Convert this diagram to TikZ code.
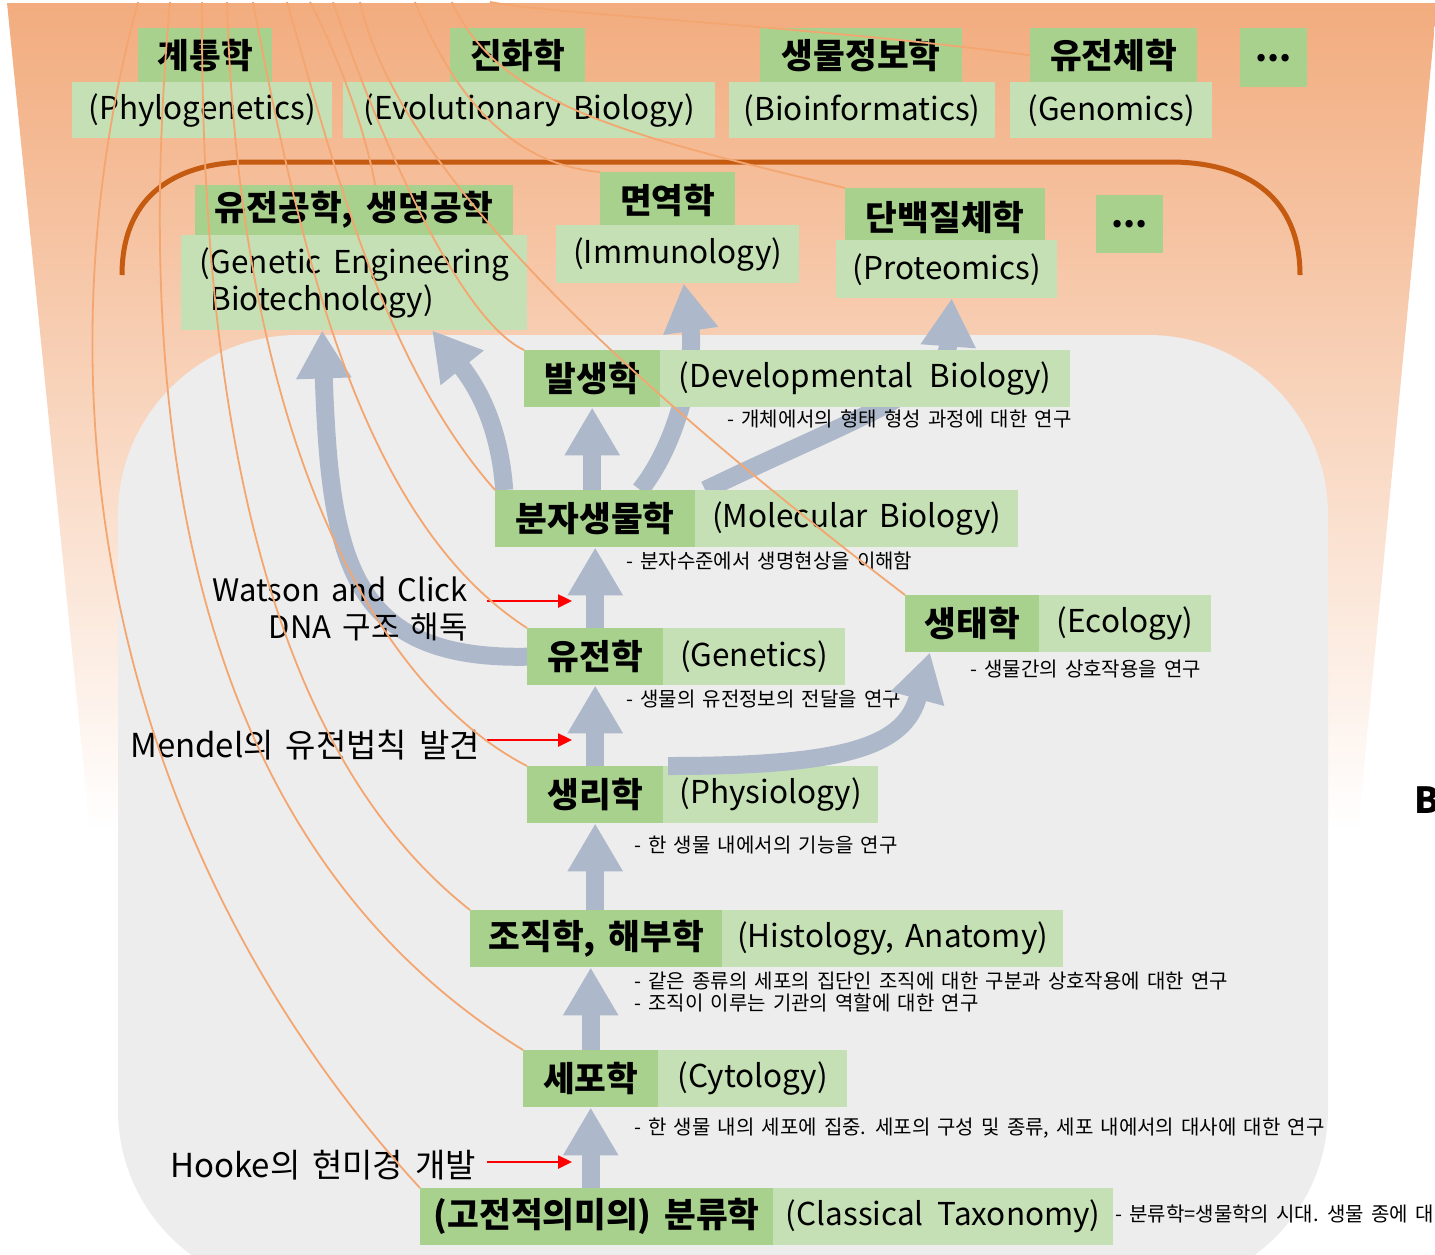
\documentclass[tikz,border=0pt]{standalone}
\usepackage{fontspec}
\setmainfont{Noto Sans CJK KR}[WordSpace=1.6]
\usetikzlibrary{arrows.meta}
\definecolor{dkgreen}{RGB}{169,209,142}
\definecolor{ltgreen}{RGB}{197,224,180}
\definecolor{panel}{RGB}{237,237,237}
\definecolor{flow}{RGB}{173,185,202}
\definecolor{rim}{RGB}{197,90,17}
\definecolor{root}{RGB}{244,166,112}
\definecolor{sky}{RGB}{242,172,126}
\pgfdeclarelayer{under}
\pgfsetlayers{under,main}

\begin{document}
\begin{tikzpicture}[x=1pt, y=-1pt,
    dk/.style={fill=dkgreen, anchor=north west, inner sep=0pt, minimum height=57pt, font=\bfseries\fontsize{34.5}{38}\selectfont},
    lt/.style={fill=ltgreen, anchor=north west, inner sep=0pt, minimum height=57pt, font=\fontsize{31.5}{37}\selectfont},
    note/.style={anchor=west, inner sep=0pt, align=left, font=\fontsize{20}{22}\selectfont},
    say/.style={anchor=east, inner sep=0pt, align=right, font=\fontsize{33}{37}\selectfont},
    flowup/.style={draw=flow, line width=18pt, -{Triangle[width=52pt,length=48pt]}},
    cue/.style={draw=red, line width=2.5pt, -{Triangle[width=13pt,length=14pt]}},
    rootline/.style={draw=root, line width=1.8pt}]
              \useasboundingbox (0,0) rectangle (1435,1254);
              \begin{pgfonlayer}{under}
              \shade[top color=sky, bottom color=white] (7,3) -- (1437,3) -- (1358,830) -- (90,830) -- cycle;
              \fill[panel, rounded corners=180pt] (118,335) rectangle (1328,1290);
              \draw[rim, line width=5pt] (122,275) .. controls (122,200) and (170,162) .. (250,162) -- (1170,162) .. controls (1250,162) and (1300,200) .. (1300,275);
              \end{pgfonlayer}

              \node[dk, minimum width=134pt, minimum height=54pt] (phyl) at (138,28) {계통학};
              \node[lt, minimum width=260pt, minimum height=56pt] (phylE) at (72,82) {(Phylogenetics)};
              \node[dk, minimum width=135pt, minimum height=54pt] (evo) at (450,28) {진화학};
              \node[lt, minimum width=372pt, minimum height=56pt] (evoE) at (343,82) {(Evolutionary Biology)};
              \node[dk, minimum width=202pt, minimum height=54pt] (bioinf) at (760,28) {생물정보학};
              \node[lt, minimum width=266pt, minimum height=56pt] (bioinfE) at (729,82) {(Bioinformatics)};
              \node[dk, minimum width=167pt, minimum height=54pt] (genom) at (1030,28) {유전체학};
              \node[lt, minimum width=202pt, minimum height=56pt] (genomE) at (1010,82) {(Genomics)};
              \node[dk, minimum width=67pt, minimum height=59pt] (more1) at (1240,28) {...};

              \node[dk, minimum width=318pt, minimum height=50pt] (eng) at (195,185) {유전공학, 생명공학};
              \node[lt, minimum width=346pt, minimum height=95pt, align=left] (engE) at (181,235) {(Genetic Engineering\\\ Biotechnology)};
              \node[dk, minimum width=135pt, minimum height=56pt] (imm) at (600,172) {면역학};
              \node[lt, minimum width=243pt, minimum height=58pt] (immE) at (556,225) {(Immunology)};
              \node[dk, minimum width=200pt, minimum height=58pt] (prot) at (845,188) {단백질체학};
              \node[lt, minimum width=221pt, minimum height=58pt] (protE) at (836,240) {(Proteomics)};
              \node[dk, minimum width=67pt, minimum height=58pt] (more2) at (1096,195) {...};

              \node[dk, minimum width=136pt] (dev) at (524,350) {발생학};
              \node[lt, minimum width=410pt] (devE) at (660,350) {(Developmental\hspace{16pt}Biology)};
              \node[note] (devN) at (727,419) {- 개체에서의 형태 형성 과정에 대한 연구};
              \node[dk, minimum width=200pt] (mol) at (495,490) {분자생물학};
              \node[lt, minimum width=323pt] (molE) at (695,490) {(Molecular Biology)};
              \node[note] (molN) at (626,561) {- 분자수준에서 생명현상을 이해함};
              \node[dk, minimum width=136pt] (gen) at (527,628) {유전학};
              \node[lt, minimum width=182pt] (genE) at (663,628) {(Genetics)};
              \node[note] (genN) at (626,699) {- 생물의 유전정보의 전달을 연구};
              \node[dk, minimum width=134pt] (eco) at (905,595) {생태학};
              \node[lt, minimum width=172pt] (ecoE) at (1039,595) {(Ecology)};
              \node[note] (ecoN) at (970,669) {- 생물간의 상호작용을 연구};
              \node[dk, minimum width=136pt] (phy) at (527,766) {생리학};
              \node[lt, minimum width=215pt] (phyE) at (663,766) {(Physiology)};
              \node[note] (phyN) at (634,845) {- 한 생물 내에서의 기능을 연구};
              \node[dk, minimum width=252pt] (his) at (470,910) {조직학, 해부학};
              \node[lt, minimum width=341pt] (hisE) at (722,910) {(Histology, Anatomy)};
              \node[note] (hisN) at (634,992) {- 같은 종류의 세포의 집단인 조직에 대한 구분과 상호작용에 대한 연구\\- 조직이 이루는 기관의 역할에 대한 연구};
              \node[dk, minimum width=135pt] (cyt) at (523,1050) {세포학};
              \node[lt, minimum width=189pt] (cytE) at (658,1050) {(Cytology)};
              \node[note] (cytN) at (634,1128) {- 한 생물 내의 세포에 집중. 세포의 구성 및 종류, 세포 내에서의 대사에 대한 연구};
              \node[dk, minimum width=353pt] (tax) at (420,1188) {(고전적의미의) 분류학};
              \node[lt, minimum width=340pt] (taxE) at (773,1188) {(Classical\hspace{14pt}Taxonomy)};
              \node[note] (taxN) at (1115,1214) {- 분류학=생물학의 시대. 생물 종에 대};

              \node[anchor=west, inner sep=0pt, font=\bfseries\fontsize{36}{40}\selectfont] (mark) at (1414,800) {B};

              \begin{pgfonlayer}{under}
              \draw[flowup] ([xshift=110pt]mol.north) .. controls (850,420) and (945,390) .. ([xshift=5pt]protE.south);
              \draw[flowup] ([xshift=45pt]mol.north) .. controls (680,440) and (695,360) .. ([xshift=6pt]immE.south);
              \draw[flowup] (gen.west) .. controls (350,660) and (330,560) .. ([xshift=-32pt]engE.south);
              \draw[flowup] ([xshift=-91pt]mol.north) .. controls (500,430) and (480,390) .. ([xshift=78pt]engE.south);
              \end{pgfonlayer}
              \draw[flowup] (tax.north -| cyt.south) -- (cyt.south);
              \draw[flowup] (cyt.north) -- (cyt.north |- his.south);
              \draw[flowup] (his.north -| phy.south) -- (phy.south);
              \draw[flowup] (phy.north) -- (phy.north |- gen.south);
              \draw[flowup] (gen.north) -- (gen.north |- mol.south);
              \draw[flowup] (mol.north -| dev.south) -- (dev.south);
              \draw[flowup] ([xshift=5pt]phyE.north west) .. controls (850,766) and (905,745) .. ([xshift=25pt]eco.south west);

              \node[say, font=\fontsize{31}{37}\selectfont] (watson) at (468,609) {Watson and Click\\DNA 구조 해독};
              \node[say] (mendel) at (480,745) {Mendel의 유전법칙 발견};
              \node[say] (hooke) at (476,1165) {Hooke의 현미경 개발};
              \coordinate (w0) at (487,601);
              \coordinate (w1) at (572,601);
              \coordinate (m0) at (487,740);
              \coordinate (m1) at (572,740);
              \coordinate (h0) at (487,1162);
              \coordinate (h1) at (572,1162);
              \draw[cue] (w0) -- (w1);
              \draw[cue] (m0) -- (m1);
              \draw[cue] (h0) -- (h1);

              \coordinate (top1) at (138,2);
              \coordinate (top2) at (170,2);
              \coordinate (top3) at (202,2);
              \coordinate (top4) at (227,2);
              \coordinate (top5) at (253,2);
              \coordinate (top6) at (287,2);
              \coordinate (top7) at (310,2);
              \coordinate (top8) at (333,2);
              \coordinate (top9) at (360,2);
              \coordinate (top10) at (415,2);
              \coordinate (top11) at (452,2);
              \coordinate (top12) at (490,2);
              \draw[rootline] (top1) .. controls (30,400) and (110,850) .. (tax.north west);
              \draw[rootline] (top2) .. controls (130,450) and (200,850) .. (cyt.north west);
              \draw[rootline] (top3) .. controls (200,450) and (280,760) .. (his.north west);
              \draw[rootline] (top4) .. controls (240,450) and (380,690) .. (phy.north west);
              \draw[rootline] (top5) .. controls (300,250) and (360,520) .. (gen.north west);
              \draw[rootline] (top6) .. controls (330,150) and (380,360) .. (mol.north west);
              \draw[rootline] (top7) .. controls (340,60) and (365,130) .. ([xshift=21pt]eng.north);
              \draw[rootline] (top8) .. controls (380,140) and (460,320) .. (dev.north west);
              \draw[rootline] (top9) .. controls (400,180) and (650,400) .. (eco.north west);
              \draw[rootline] (top10) .. controls (460,110) and (520,165) .. (imm.north west);
              \draw[rootline] (top11) .. controls (500,110) and (650,140) .. (prot.north west);
              \draw[rootline] (top12) .. controls (560,15) and (800,25) .. (genom.west);
            \end{tikzpicture}
\end{document}
